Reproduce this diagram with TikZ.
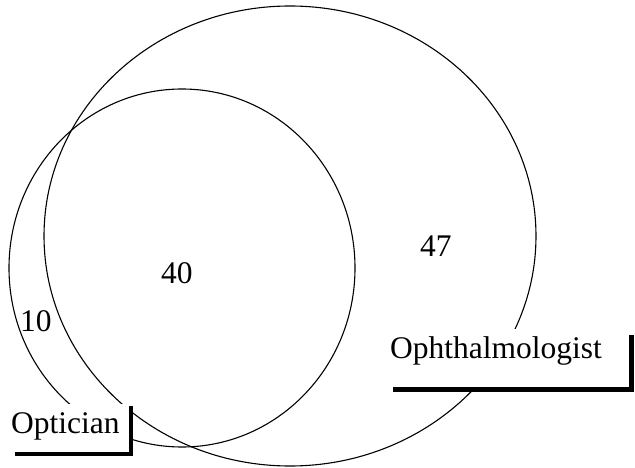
\documentclass[tikz,border=0pt]{standalone}
\usepackage{fontspec}
\setmainfont{Liberation Serif}
\begin{document}
\begin{tikzpicture}[x=1pt,y=-1pt,
  venn/.style={draw=black,line width=1.1pt},
  bracket/.style={draw=black,line width=4.5pt},
  lbl/.style={anchor=base west,inner sep=0pt,font=\fontsize{31.5}{38}\selectfont}]
\useasboundingbox (0,0) rectangle (635,468);
% circles
\draw[venn] (290,236) ellipse [x radius=246pt, y radius=230pt];
\draw[venn] (182,268) ellipse [x radius=173pt, y radius=179pt];
% label boxes (white) covering circles
\fill[white] (0,404) rectangle (131,454);
\fill[white] (393,329) rectangle (631.5,390);
% brackets
\coordinate (ot) at (131,406);
\coordinate (oc) at (131,454);
\coordinate (ol) at (15,454);
\draw[bracket] (ot) -- (oc) -- (ol);
\coordinate (pt) at (631.5,335);
\coordinate (pc) at (631.5,389.5);
\coordinate (pl) at (393,389.5);
\draw[bracket] (pt) -- (pc) -- (pl);
% texts
\node[lbl] (n40) at (161,283) {40};
\node[lbl] (n47) at (420,256) {47};
\node[lbl] (n10) at (20,331) {10};
\node[lbl] (opt) at (11,433) {Optician};
\node[lbl] (oph) at (390,358) {Ophthalmologist};
\end{tikzpicture}
\end{document}
